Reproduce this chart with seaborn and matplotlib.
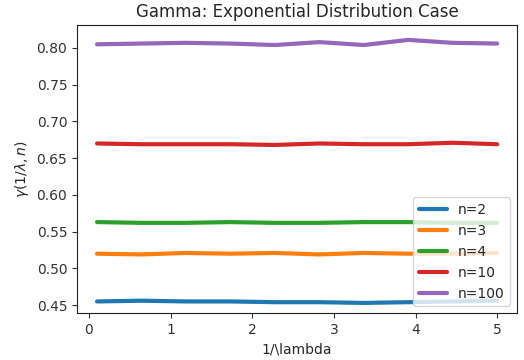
import numpy as np
import pandas as pd
import matplotlib
matplotlib.use("Agg")
import matplotlib.pyplot as plt
import seaborn as sns

# Inverse rate values on the horizontal axis
inv_lambda = np.linspace(0.1, 5.0, 10)

# Estimated gamma values for each n
gamma_n2 = [0.455, 0.456, 0.455, 0.455, 0.454, 0.454, 0.453, 0.454, 0.455, 0.456]
gamma_n3 = [0.520, 0.519, 0.521, 0.520, 0.521, 0.519, 0.521, 0.520, 0.520, 0.521]
gamma_n4 = [0.563, 0.562, 0.562, 0.563, 0.562, 0.562, 0.563, 0.563, 0.562, 0.562]
gamma_n10 = [0.670, 0.669, 0.669, 0.669, 0.668, 0.670, 0.669, 0.669, 0.671, 0.669]
gamma_n100 = [0.805, 0.806, 0.807, 0.806, 0.804, 0.808, 0.804, 0.811, 0.807, 0.806]

labels = ["n=2", "n=3", "n=4", "n=10", "n=100"]
series = [gamma_n2, gamma_n3, gamma_n4, gamma_n10, gamma_n100]

df = pd.concat(
    [pd.DataFrame({"x": inv_lambda, "y": s, "n": lab}) for lab, s in zip(labels, series)],
    ignore_index=True,
)

sns.set_style("ticks")
plt.rcParams["font.family"] = ["DejaVu Sans"]

fig = plt.figure(figsize=(5.24, 3.6), dpi=100)
ax = fig.add_axes([0.147, 0.13, 0.84, 0.80])

sns.lineplot(data=df, x="x", y="y", hue="n", hue_order=labels,
             palette="tab10", linewidth=3, ax=ax)

ax.set_title("Gamma: Exponential Distribution Case", fontsize=12)
ax.set_xlabel("1/\\lambda", fontsize=10)
ax.set_ylabel(r"$\gamma(1/\lambda, n)$", fontsize=10)
ax.set_xticks([0, 1, 2, 3, 4, 5])
ax.set_yticks([0.45, 0.50, 0.55, 0.60, 0.65, 0.70, 0.75, 0.80])
ax.set_ylim(0.439, 0.831)
ax.set_xlim(-0.145, 5.245)
ax.tick_params(labelsize=10, colors="#333333")
for sp in ax.spines.values():
    sp.set_color("#222222")
leg = ax.legend(loc="lower right", fontsize=10, title=None)
for line in leg.get_lines():
    line.set_linewidth(3)

fig.savefig("out.png", dpi=100)
